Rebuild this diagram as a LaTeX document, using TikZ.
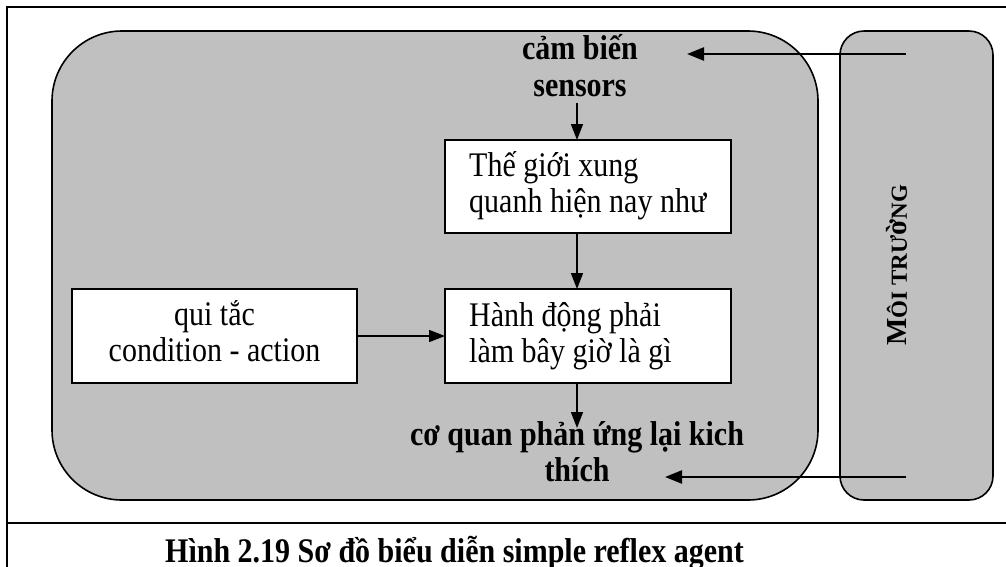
\documentclass[tikz,border=0pt]{standalone}
\usepackage{fontspec}
\usepackage{graphicx}
\setmainfont{Liberation Serif}
\usetikzlibrary{arrows.meta}
\definecolor{agentgray}{HTML}{C0C0C0}
\newcommand{\tallt}[1]{\scalebox{1}[1.15]{#1}}
\tikzset{
  panel/.style={draw=black, line width=1.6pt, fill=agentgray, inner sep=0pt, outer sep=0pt},
  whitebox/.style={draw=black, line width=1.6pt, fill=white, inner sep=0pt, outer sep=0pt},
  arr/.style={line width=1.6pt, -{Triangle[length=16pt,width=12pt]}},
  harr/.style={line width=2.4pt, -{Triangle[length=17pt,width=13pt]}},
  frameline/.style={line width=2.4pt},
  rtext/.style={font=\fontsize{30}{37}\selectfont, inner sep=0pt},
  btext/.style={font=\bfseries\fontsize{30}{37}\selectfont, inner sep=0pt},
}
\begin{document}
\begin{tikzpicture}[x=1pt,y=-1pt]
\useasboundingbox (0,0) rectangle (1006,566);
\clip (0,0) rectangle (1006,566);
% outer frame and separator
\draw[frameline] (1012,7) -- (7,7) -- (7,572);
\draw[frameline] (7,523) -- (1012,523);
% agent and environment panels
\node[panel, rounded corners=70pt, minimum width=766pt, minimum height=469pt] (agent) at (435,265.5) {};
\node[panel, rounded corners=24pt, minimum width=153pt, minimum height=469pt] (env) at (916.5,265.5) {};
% inner boxes
\node[whitebox, minimum width=286pt, minimum height=93pt] (tg) at (588,186.5) {};
\node[whitebox, minimum width=286pt, minimum height=94pt] (hd) at (588,336) {};
\node[whitebox, minimum width=285pt, minimum height=94pt] (qt) at (214.5,336) {};
% texts
\node[btext, anchor=base] (cb1) at (580,59) {\tallt{cảm biến}};
\node[btext, anchor=base] (cb2) at (580,96) {\tallt{sensors}};
\node[rtext, anchor=base west] (tg1) at (469,176) {\tallt{Thế giới xung}};
\node[rtext, anchor=base west] (tg2) at (469,212) {\tallt{quanh hiện nay như}};
\node[rtext, anchor=base west] (hd1) at (469,326) {\tallt{Hành động phải}};
\node[rtext, anchor=base west] (hd2) at (469,362) {\tallt{làm bây giờ là gì}};
\node[rtext, anchor=base] (qt1) at (214.5,325) {\tallt{qui tắc}};
\node[rtext, anchor=base] (qt2) at (214.5,361) {\tallt{condition - action}};
\node[btext, anchor=base] (cq1) at (577,445) {\tallt{cơ quan phản ứng lại kich}};
\node[btext, anchor=base] (cq2) at (577,481) {\tallt{thích}};
\node[rotate=90, inner sep=0pt] (envt) at (897,265)
  {\bfseries\fontsize{29}{29}\selectfont M\fontsize{23}{23}\selectfont ÔI TRƯ\fontsize{29}{29}\selectfont ờ\fontsize{23}{23}\selectfont NG};
\node[btext, anchor=base west] (cap) at (165,562) {\tallt{Hình 2.19 Sơ đồ biểu diễn simple reflex agent}};
% connectors
\coordinate (s1) at (577,103);
\coordinate (a2) at (577,428);
\draw[arr] (s1) -- (s1 |- tg.north);
\draw[arr] (s1 |- tg.south) -- (s1 |- hd.north);
\draw[arr] (qt.east) -- (hd.west);
\draw[arr] (s1 |- hd.south) -- (a2);
\coordinate (e1) at (906,54);
\coordinate (c1) at (687,54);
\coordinate (e2) at (906,477);
\coordinate (c2) at (665,477);
\draw[harr] (e1) -- (c1);
\draw[harr] (e2) -- (c2);
\end{tikzpicture}
\end{document}
